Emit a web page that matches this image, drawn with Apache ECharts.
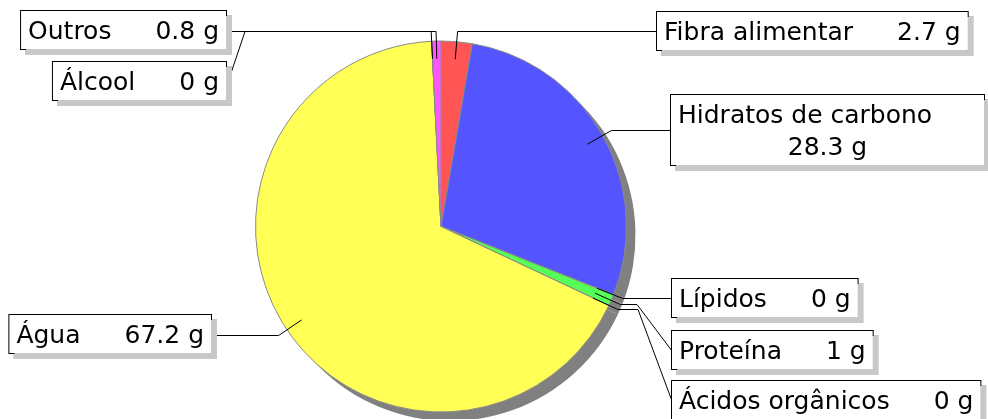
<!DOCTYPE html>
<html>
<head>
<meta charset="utf-8">
<script src="https://cdn.jsdelivr.net/npm/echarts@6/dist/echarts.min.js"></script>
<style>
html,body{margin:0;padding:0;background:#fff;}
#chart{width:988px;height:419px;}
</style>
</head>
<body>
<div id="chart"></div>
<script>
// ---- data ----
const categories = ['Fibra alimentar', 'Hidratos de carbono', 'Lípidos', 'Proteína', 'Ácidos orgânicos', 'Água', 'Álcool', 'Outros'];
const values = [2.7, 28.3, 0, 1, 0, 67.2, 0, 0.8];
const colors = ['#ff5555', '#5555ff', '#55ff55', '#55ff55', '#55ff55', '#ffff55', '#ff55ff', '#ff55ff'];
const unit = 'g';

// ---- layout ----
const CX = 441, CY = 226.5, R = 185.5;
const FONT = 'DejaVu Sans';
const boxLayout = {
  'Outros':              {right: 228, top: 11},
  'Álcool':              {right: 228, top: 62, via: 245},
  'Fibra alimentar':     {left: 657, top: 12},
  'Hidratos de carbono': {left: 671, top: 95},
  'Lípidos':             {left: 672, top: 279},
  'Proteína':            {left: 672, top: 331, via: 637},
  'Ácidos orgânicos':    {left: 672, top: 381, via: 638},
  'Água':                {right: 213, top: 315}
};

const chart = echarts.init(document.getElementById('chart'), null, {renderer: 'canvas'});

const mainData = categories.map((c, i) => ({name: c, value: values[i], itemStyle: {color: colors[i]}}));
const plainData = categories.map((c, i) => ({name: c, value: values[i]}));

const txt = {fontFamily: FONT, fontSize: 25, color: '#000', lineHeight: 32};
const snap = v => Math.floor(v) + 0.5;

const base = {
  type: 'pie',
  radius: R,
  startAngle: 90,
  clockwise: true,
  avoidLabelOverlap: false,
  emphasis: {disabled: true}
};

chart.setOption({
  animation: false,
  series: [
    Object.assign({}, base, {
      silent: true,
      center: [CX + 9, CY + 9],
      label: {show: false},
      labelLine: {show: false},
      itemStyle: {color: '#808080', borderWidth: 0},
      data: plainData,
      z: 1
    }),
    Object.assign({}, base, {
      silent: true,
      center: [CX, CY],
      label: {show: false},
      labelLine: {show: false},
      itemStyle: {borderColor: '#8a8a8a', borderWidth: 1},
      data: mainData,
      z: 2
    }),
    Object.assign({}, base, {
      silent: true,
      center: [CX, CY],
      minShowLabelAngle: 0,
      itemStyle: {color: 'rgba(0,0,0,0)', borderWidth: 0},
      label: {
        show: true,
        position: 'outside',
        formatter: p => p.name === 'Hidratos de carbono'
          ? `{h|${p.name}}\n{c|${p.value} ${unit}}`
          : `{n|${p.name}}{v|${p.value} ${unit}}`,
        backgroundColor: '#ffffff',
        borderColor: '#000000',
        borderWidth: 1,
        padding: [5, 7, 1, 7],
        shadowColor: '#c8c8c8',
        shadowOffsetX: 5,
        shadowOffsetY: 5,
        shadowBlur: 0,
        rich: {
          n: Object.assign({}, txt),
          v: Object.assign({}, txt, {padding: [0, 0, 0, 44]}),
          h: Object.assign({}, txt, {width: 299}),
          c: Object.assign({}, txt, {align: 'center', width: 299})
        }
      },
      labelLine: {
        show: true,
        length: 10,
        length2: 0,
        smooth: false,
        lineStyle: {color: '#000000', width: 1}
      },
      labelLayout: function (params) {
        const name = categories[params.dataIndex];
        const b = boxLayout[name];
        const w = params.labelRect.width, h = params.labelRect.height;
        const x = b.left !== undefined ? b.left : b.right - w;
        const y = b.top;
        const pts = params.labelLinePoints;
        const out = {x: x, y: y, align: 'left', verticalAlign: 'top'};
        if (pts && pts.length >= 2) {
          const p0 = [CX + (pts[0][0] - CX) * 0.905, CY + (pts[0][1] - CY) * 0.905];
          const p1 = [pts[1][0], snap(pts[1][1])];
          const leftSide = b.left === undefined;
          const edgeX = leftSide ? x + w : x;
          const line = [p0, p1];
          if (b.via !== undefined) {
            line.push([b.via, p1[1]]);
            line.push([edgeX, y + h / 2]);
          } else {
            line.push([edgeX, p1[1]]);
          }
          out.labelLinePoints = line;
        }
        return out;
      },
      data: plainData,
      z: 3
    })
  ]
});
</script>
</body>
</html>
